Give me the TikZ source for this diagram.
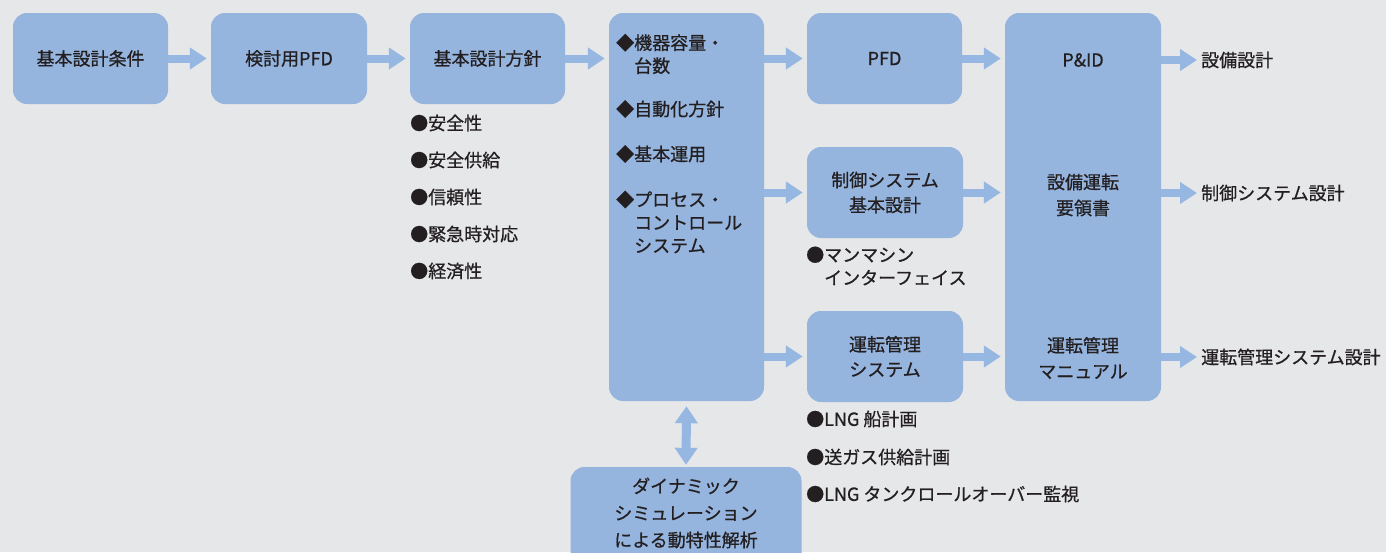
\documentclass[tikz,border=0pt]{standalone}
\usepackage{fontspec}
\setmainfont{Noto Sans CJK JP}[FakeBold=0.7]
\usetikzlibrary{arrows.meta}
\definecolor{bg}{RGB}{230,231,233}
\definecolor{boxblue}{RGB}{149,180,222}
\definecolor{arrblue}{RGB}{150,183,225}
\definecolor{txt}{RGB}{35,31,32}
\tikzset{
  box/.style={fill=boxblue, rounded corners=14pt, inner sep=0pt, align=center, text=txt,
    font=\fontsize{18}{25}\selectfont},
  lbl/.style={anchor=west, inner sep=0pt, text=txt, align=left, font=\fontsize{18}{23}\selectfont},
  fat/.style={draw=arrblue, line width=8pt, -{Triangle[length=17pt,width=21pt]}, shorten >=4pt},
  dbl/.style={draw=arrblue, line width=9pt, {Triangle[length=17pt,width=22pt]}-{Triangle[length=17pt,width=22pt]}, shorten <=5pt, shorten >=2pt}
}
\begin{document}
\begin{tikzpicture}[x=1pt,y=-1pt]
\fill[bg] (0,0) rectangle (1386,552);
\useasboundingbox (0,0) rectangle (1386,552);
% top row boxes
\node[box, minimum width=155pt, minimum height=91pt] (b1) at (90.5,58.5) {基本設計条件};
\node[box, minimum width=156pt, minimum height=91pt] (b2) at (289,58.5) {検討用PFD};
\node[box, minimum width=155pt, minimum height=91pt] (b3) at (487.5,58.5) {基本設計方針};
\node[box, minimum width=155pt, minimum height=388pt] (b4) at (686.5,207) {};
\node[box, minimum width=155pt, minimum height=91pt] (b5) at (884.5,58.5) {PFD};
\node[box, minimum width=156pt, minimum height=388pt] (b6) at (1083,207) {};
\node[box, minimum width=156pt, minimum height=91pt] (ctrl) at (885,192.5) {制御システム\\基本設計};
\node[box, minimum width=156pt, minimum height=91pt] (ops) at (885,356.5) {運転管理\\システム};
\node[box, minimum width=231pt, minimum height=110pt] (dyn) at (686,522) {};
% texts inside dyn box
\node[inner sep=0pt, text=txt, align=center, font=\fontsize{18}{27}\selectfont] (dynt) at (686,513) {ダイナミック\\シミュレーション\\による動特性解析};
% texts in b4
\node[lbl] (k1) at (616,54) {◆機器容量・\\\hspace{1em}台数};
\node[lbl] (k2) at (616,109) {◆自動化方針};
\node[lbl] (k3) at (616,154) {◆基本運用};
\node[lbl] (k4) at (616,222) {◆プロセス・\\\hspace{1em}コントロール\\\hspace{1em}システム};
% texts in b6
\node[inner sep=0pt, text=txt, font=\fontsize{18}{25}\selectfont] (p1) at (1083,60) {P\&ID};
\node[inner sep=0pt, text=txt, align=center, font=\fontsize{18}{26}\selectfont] (p2) at (1083,195) {設備運転\\要領書};
\node[inner sep=0pt, text=txt, align=center, font=\fontsize{18}{26}\selectfont] (p3) at (1083,358) {運転管理\\マニュアル};
% bullet list under b3
\node[lbl] (l1) at (410,123) {●安全性};
\node[lbl] (l2) at (410,160) {●安全供給};
\node[lbl] (l3) at (410,197) {●信頼性};
\node[lbl] (l4) at (410,234) {●緊急時対応};
\node[lbl] (l5) at (410,271) {●経済性};
% under ctrl
\node[lbl] (m1) at (806,266) {●マンマシン\\\hspace{1em}インターフェイス};
% under ops
\node[lbl] (n1) at (806,419) {●LNG 船計画};
\node[lbl] (n2) at (806,457) {●送ガス供給計画};
\node[lbl] (n3) at (806,494) {●LNG タンクロールオーバー監視};
% outputs
\node[lbl] (o1) at (1201,60) {設備設計};
\node[lbl] (o2) at (1201,193) {制御システム設計};
\node[lbl] (o3) at (1201,357) {運転管理システム設計};
% arrows
\draw[fat] (b1.east) -- (b2.west);
\draw[fat] (b2.east) -- (b3.west);
\draw[fat] (b3.east) -- (b3.east -| b4.west);
\draw[fat] (b5.west -| b4.east) -- (b5.west);
\draw[fat] (b5.east) -- (b5.east -| b6.west);
\draw[fat] (ctrl.west -| b4.east) -- (ctrl.west);
\draw[fat] (ctrl.east) -- (ctrl.east -| b6.west);
\draw[fat] (ops.west -| b4.east) -- (ops.west);
\draw[fat] (ops.east) -- (ops.east -| b6.west);
\draw[fat] (o1.west -| b6.east) -- (o1.west);
\draw[fat] (o2.west -| b6.east) -- (o2.west);
\draw[fat] (o3.west -| b6.east) -- (o3.west);
\draw[dbl] (b4.south) -- (dyn.north);
\end{tikzpicture}
\end{document}
